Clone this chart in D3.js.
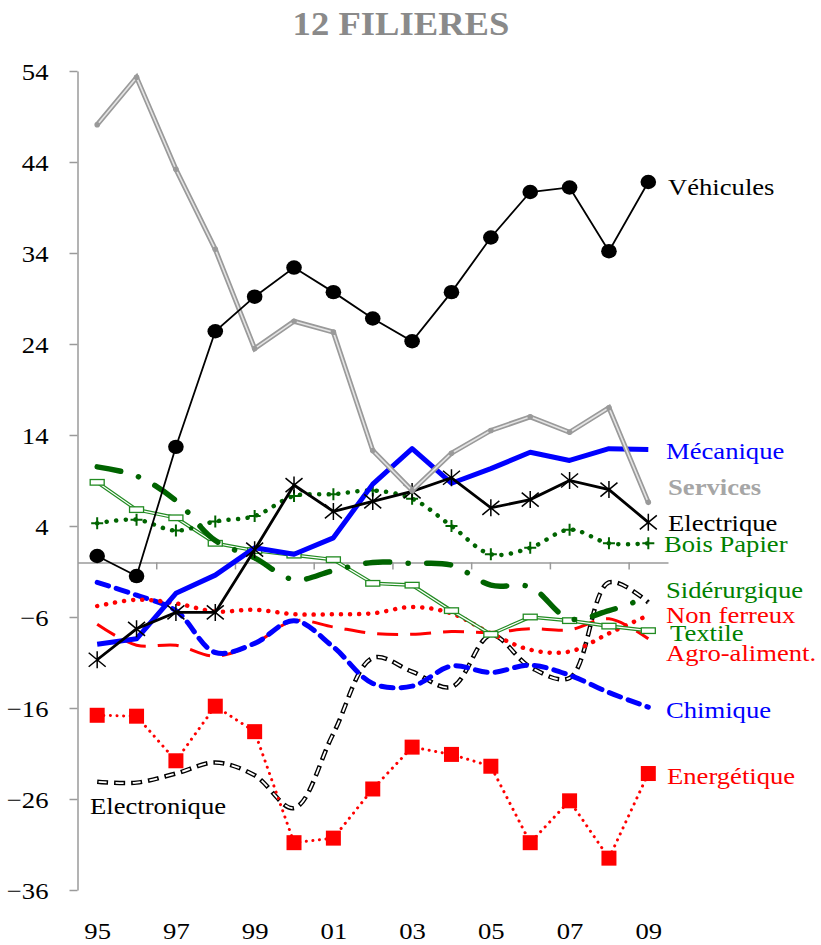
<!DOCTYPE html>
<html><head><meta charset="utf-8">
<script src="https://cdn.jsdelivr.net/npm/d3@7"></script>
<style>body{margin:0;background:#fff}svg{display:block}</style>
</head><body>
<svg id="c" width="821" height="945"></svg>
<script>
const years = ["95","96","97","98","99","00","01","02","03","04","05","06","07","08","09"];
const xTickLabels = ["95","97","99","01","03","05","07","09"];
const yTicks = [54,44,34,24,14,4,-6,-16,-26,-36];

const vehicules   = [0.7,-1.5,12.7,25.4,29.2,32.4,29.7,26.8,24.3,29.7,35.7,40.7,41.2,34.2,41.8];
const services    = [48.1,53.3,43.2,34.4,23.5,26.5,25.3,12.3,7.9,12.0,14.5,16.0,14.3,17.0,6.6];
const mecanique   = [-9.0,-8.4,-3.4,-1.4,1.6,0.9,2.7,8.6,12.5,8.7,10.3,12.1,11.2,12.5,12.4];
const electrique  = [-10.7,-7.3,-5.5,-5.5,1.4,8.5,5.6,6.7,7.8,9.3,6.0,6.9,9.0,8.0,4.4];
const boisPapier  = [4.3,4.7,3.5,4.5,5.1,7.3,7.5,7.9,7.0,4.0,0.9,1.6,3.6,2.1,2.1];
const siderurgique= [10.5,9.5,6.8,2.4,0.5,-1.9,-0.9,0.0,-0.1,-0.3,-2.5,-2.7,-6.2,-5.3,-3.8];
const nonFerreux  = [-4.8,-4.1,-4.5,-5.4,-5.2,-5.7,-5.7,-5.6,-4.9,-5.6,-7.8,-9.6,-9.8,-7.8,-5.8];
const textile     = [8.8,5.8,4.9,2.1,1.3,0.8,0.3,-2.3,-2.5,-5.3,-7.9,-6.0,-6.4,-7.0,-7.5];
const agroAliment = [-6.8,-9.1,-9.1,-10.3,-8.9,-6.4,-7.1,-7.8,-7.9,-7.6,-7.7,-7.3,-7.4,-6.2,-8.4];
const chimique    = [-2.2,-3.6,-5.3,-9.9,-8.9,-6.4,-9.3,-13.3,-13.6,-11.4,-12.1,-11.3,-12.4,-14.3,-15.9];
const electronique= [-24.1,-24.2,-23.2,-22.0,-23.4,-27.0,-18.8,-10.5,-12.0,-13.7,-8.0,-11.5,-12.7,-2.2,-4.4];
const energetique = [-16.8,-16.9,-21.8,-15.8,-18.6,-30.8,-30.3,-24.9,-20.3,-21.1,-22.4,-30.8,-26.2,-32.5,-23.2];

const seriesNames = ["Véhicules","Mécanique","Services","Electrique","Bois Papier","Sidérurgique","Non ferreux","Textile","Agro-aliment.","Chimique","Energétique","Electronique"];

(function(){
const svg = d3.select("#c");
const SX = 1.11; // horizontal text stretch of the original
const FONT = "'Liberation Serif','Times New Roman',serif";
const mLeft = 77.5, mRight = 668, mTop = 71, mBottom = 890;

const x = d3.scalePoint().domain(years).range([mLeft, mRight]).padding(0.5);
const xb = d3.scaleLinear().domain([0, years.length]).range([mLeft, mRight]);
const y = d3.scaleLinear().domain([-36, 54]).range([mBottom, mTop]);
const AX = "#9a9a9a";

svg.append("text").attr("transform", `translate(401,35) scale(${SX},1)`)
  .attr("text-anchor","middle").attr("font-family",FONT).attr("font-weight","bold")
  .attr("font-size",33).attr("fill","#8a8a8a").text("12 FILIERES");

const gy = svg.append("g").attr("transform",`translate(${mLeft},0)`)
  .call(d3.axisLeft(y).tickValues(yTicks).tickSize(8).tickSizeOuter(0));
gy.select(".domain").attr("stroke",AX).attr("stroke-width",1.5);
gy.selectAll(".tick line").attr("stroke",AX).attr("stroke-width",1.5);
gy.selectAll(".tick text").attr("x",0).attr("dy","0.34em")
  .attr("transform",`translate(-29,0) scale(${SX},1)`)
  .attr("font-family",FONT).attr("font-size",24).attr("fill","#000");

const gz = svg.append("g").attr("transform",`translate(0,${y(0)})`)
  .call(d3.axisBottom(xb).tickValues(d3.range(2, years.length, 2)).tickSize(7).tickSizeOuter(0).tickFormat(""));
gz.select(".domain").attr("stroke",AX).attr("stroke-width",1.5);
gz.selectAll(".tick line").attr("stroke",AX).attr("stroke-width",1.5);

const gx = svg.append("g").attr("transform",`translate(0,922)`)
  .call(d3.axisBottom(x).tickValues(xTickLabels).tickSize(0));
gx.select(".domain").remove();
gx.selectAll(".tick text").attr("y",0).attr("dy","0.71em")
  .attr("transform",`scale(${SX},1)`)
  .attr("font-family",FONT).attr("font-size",24).attr("fill","#000");

const straight = d3.line().x((d,i)=>x(years[i])).y(d=>y(d));
const smooth = d3.line().x((d,i)=>x(years[i])).y(d=>y(d)).curve(d3.curveCatmullRom.alpha(0.5));
const plot = svg.append("g");

function path(data, gen, attrs){
  const p = plot.append("path").attr("d", gen(data)).attr("fill","none");
  for (const k in attrs) p.attr(k, attrs[k]);
  return p;
}
function markers(data, draw){
  data.forEach((v,i)=>{
    const g = plot.append("g").attr("transform",`translate(${x(years[i])},${y(v)})`);
    draw(g);
  });
}

path(electronique, smooth, {stroke:"#000","stroke-width":4.5,"stroke-dasharray":"11,6"});
path(electronique, smooth, {stroke:"#fff","stroke-width":1.8,"stroke-dasharray":"8,9","stroke-dashoffset":-1.5});

path(energetique, straight, {stroke:"#ff0000","stroke-width":3,"stroke-dasharray":"0.1,6.5","stroke-linecap":"round"});
markers(energetique, g=>g.append("rect").attr("x",-7.5).attr("y",-7.5).attr("width",15).attr("height",15).attr("fill","#ff0000"));

path(agroAliment, smooth, {stroke:"#ff0000","stroke-width":3,"stroke-dasharray":"21,12"});

path(chimique, smooth, {stroke:"#0000ff","stroke-width":5,"stroke-dasharray":"12,8","stroke-linecap":"round"});

path(nonFerreux, smooth, {stroke:"#ff0000","stroke-width":4.5,"stroke-dasharray":"0.1,9","stroke-linecap":"round"});

path(textile, straight, {stroke:"#228b22","stroke-width":3.6});
path(textile, straight, {stroke:"#fff","stroke-width":1.2});
markers(textile, g=>g.append("rect").attr("x",-7).attr("y",-2.8).attr("width",14).attr("height",5.6)
  .attr("fill","#fff").attr("stroke","#228b22").attr("stroke-width",1.3));

path(siderurgique, smooth, {stroke:"#006400","stroke-width":5.5,"stroke-dasharray":"24,18.5,0.1,18.5","stroke-linecap":"round"});

path(boisPapier, smooth, {stroke:"#006400","stroke-width":4.5,"stroke-dasharray":"0.1,9.5","stroke-linecap":"round"});
markers(boisPapier, g=>g.append("path").attr("d","M-6,0H6M0,-6V6").attr("stroke","#006400").attr("stroke-width",2));

path(mecanique, straight, {stroke:"#0000ff","stroke-width":5,"stroke-linejoin":"round"});

path(electrique, straight, {stroke:"#000","stroke-width":2.8});
markers(electrique, g=>g.append("path").attr("d","M-8.5,-7L8.5,7M-8.5,7L8.5,-7M0,-8.5V8.5").attr("stroke","#000").attr("stroke-width",1.5));

path(services, straight, {stroke:"#9a9a9a","stroke-width":5});
path(services, straight, {stroke:"#e4e4e4","stroke-width":1.6});
markers(services, g=>g.append("circle").attr("r",2.8).attr("fill","#9a9a9a"));

path(vehicules, straight, {stroke:"#000","stroke-width":1.8});
markers(vehicules, g=>g.append("ellipse").attr("rx",7.8).attr("ry",7.2).attr("fill","#000"));

const labelX   = [668,666,668,668,664,666,666,670,666,666,667,90];
const labelVal = [41.3,12.3,8.35,4.3,2.0,-3.0,-5.8,-7.7,-9.9,-16.2,-23.4,-26.7];
const labelCol = ["#000","#0000ff","#a6a6a6","#000","#008000","#008000","#ff0000","#008000","#ff0000","#0000ff","#ff0000","#000"];
seriesNames.forEach((n,i)=>{
  svg.append("text").attr("transform",`translate(${labelX[i]},${y(labelVal[i])}) scale(${SX},1)`)
    .attr("dy","0.34em").attr("font-family",FONT).attr("font-size",24)
    .attr("font-weight", n==="Services" ? "bold" : "normal")
    .attr("fill",labelCol[i]).text(n);
});
})();
</script>
</body></html>
